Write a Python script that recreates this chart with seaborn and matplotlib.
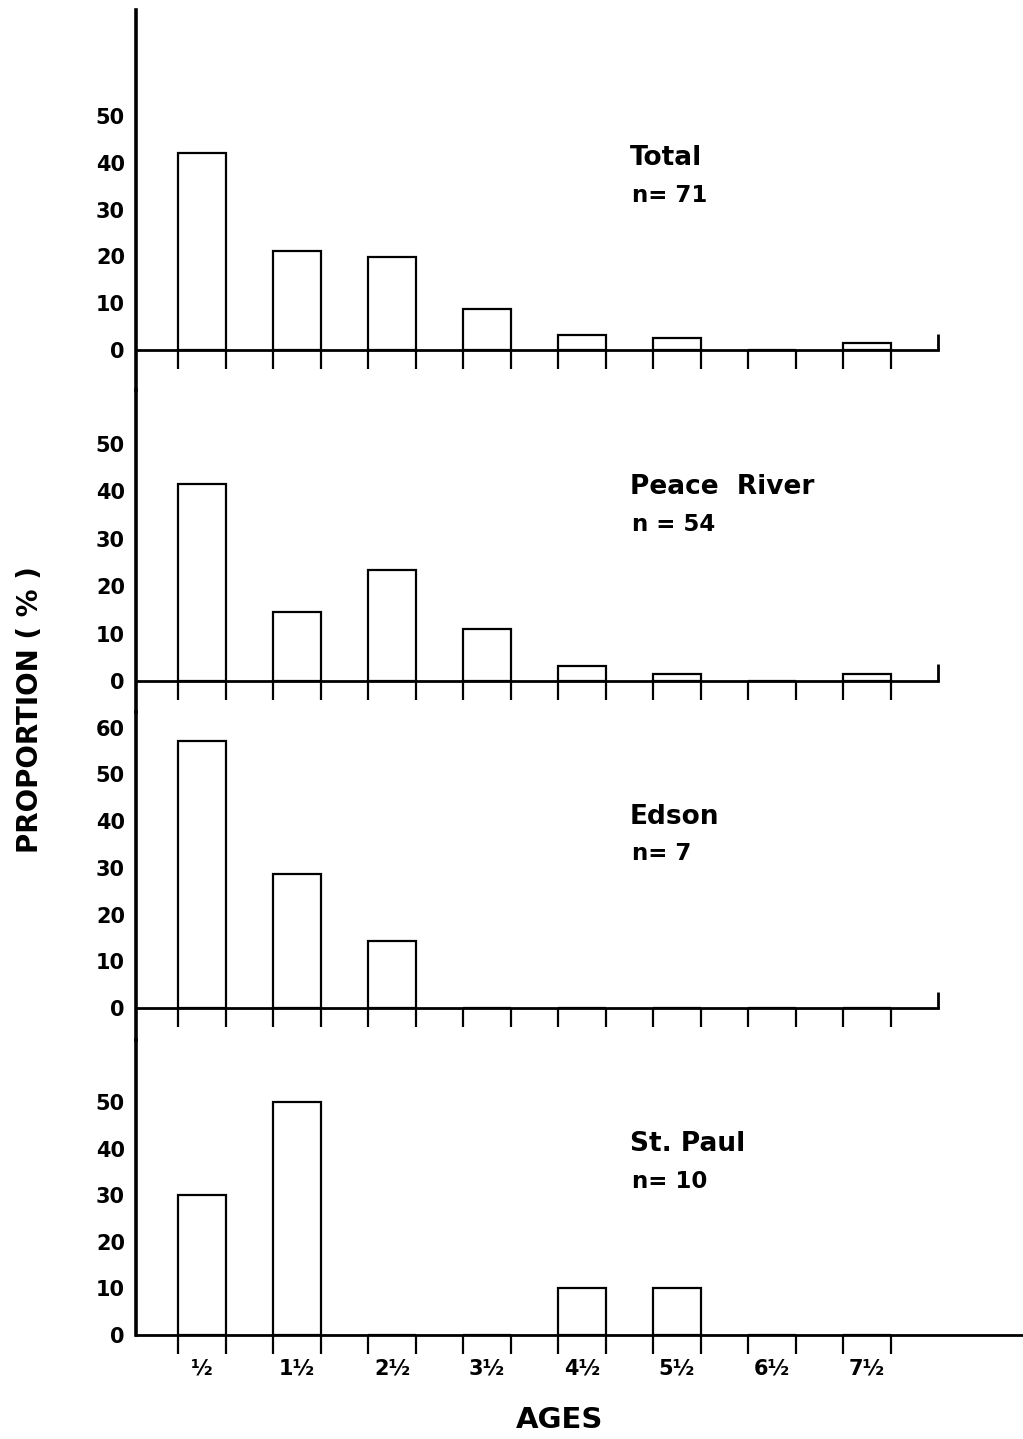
import numpy as np
import pandas as pd
import matplotlib.pyplot as plt
import seaborn as sns

# age classes and proportions (%)
ages = ['½', '1½', '2½', '3½', '4½', '5½', '6½', '7½']
total = [42, 21.2, 19.8, 8.7, 3.2, 2.6, 0, 1.5]
peace_river = [41.5, 14.5, 23.5, 11, 3.2, 1.4, 0, 1.5]
edson = [57.1, 28.6, 14.3, 0, 0, 0, 0, 0]
st_paul = [30, 50, 0, 0, 10, 10, 0, 0]

names = ['Total', 'Peace  River', 'Edson', 'St. Paul']
counts = ['n= 71', 'n = 54', 'n= 7', 'n= 10']
series = [total, peace_river, edson, st_paul]
ytop = [50, 50, 60, 50]

sns.set_style('ticks')
plt.rcParams['font.family'] = ['DejaVu Sans']
plt.rcParams['font.weight'] = 'bold'
for k in ['text.color', 'axes.labelcolor', 'xtick.color', 'ytick.color', 'axes.edgecolor']:
    plt.rcParams[k] = 'black'

W, H = 1023, 1439
fig = plt.figure(figsize=(W / 100, H / 100), dpi=100)

# pixel layout of each panel: top, bottom, zero line, px per unit, right end
layout = [
    (10, 390, 350, 4.68, 938),
    (390, 712, 681, 4.74, 938),
    (712, 1040, 1008, 4.67, 938),
    (1040, 1335, 1335, 4.66, 1023),
]
spine_x = 136
c0 = 202
step = 95

for i, (vals, (top, bot, y0, ppu, right)) in enumerate(zip(series, layout)):
    ax = fig.add_axes([spine_x / W, 1 - bot / H, (right - spine_x) / W, (bot - top) / H])
    df = pd.DataFrame({'age': ages, 'pct': vals})
    sns.barplot(data=df, x='age', y='pct', order=ages, color='white', saturation=1,
                edgecolor='black', linewidth=1.6, width=0.5, ax=ax)
    xmin = -(c0 - spine_x) / step
    xmax = (right - c0) / step
    ax.set_xlim(xmin, xmax)
    ax.set_ylim(-(bot - y0) / ppu, (y0 - top) / ppu)
    ax.spines['top'].set_visible(False)
    ax.spines['right'].set_visible(False)
    ax.spines['left'].set_linewidth(2.6)
    ax.spines['bottom'].set_linewidth(2.0)
    ax.spines['bottom'].set_position(('data', 0))
    ax.set_yticks(range(0, ytop[i] + 1, 10))
    ax.tick_params(axis='y', length=0, pad=8, labelsize=15)
    for t in ax.get_yticklabels():
        t.set_fontweight('bold')
    edges = [k + d for k in range(len(ages)) for d in (-0.25, 0.25)]
    ax.set_xticks(edges, minor=True)
    ax.tick_params(axis='x', which='minor', direction='out', length=14, width=1.6)
    ax.set_xlabel('')
    ax.set_ylabel('')
    if i < 3:
        ax.set_xticks(range(len(ages)), [''] * len(ages))
        ax.tick_params(axis='x', which='major', length=0)
        ax.vlines(xmax, 0, 3.5, color='black', lw=2, clip_on=False)
    else:
        ax.set_xticks(range(len(ages)), ages)
        ax.tick_params(axis='x', which='major', length=0, pad=17, labelsize=15)
        for t in ax.get_xticklabels():
            t.set_fontweight('bold')
    ax.text(4.5, 41, names[i], fontsize=19, fontweight='bold', va='center', ha='left')
    ax.text(4.53, 33, counts[i], fontsize=16.5, fontweight='bold', va='center', ha='left')
    ax.patch.set_alpha(0)

fig.text(30 / W, 1 - 710 / H, 'PROPORTION ( % )', rotation=90, fontsize=20,
         fontweight='bold', ha='center', va='center')
fig.text(560 / W, 1 - 1420 / H, 'AGES', fontsize=21, fontweight='bold',
         ha='center', va='center')

fig.savefig('out.png', dpi=100, facecolor='white')
